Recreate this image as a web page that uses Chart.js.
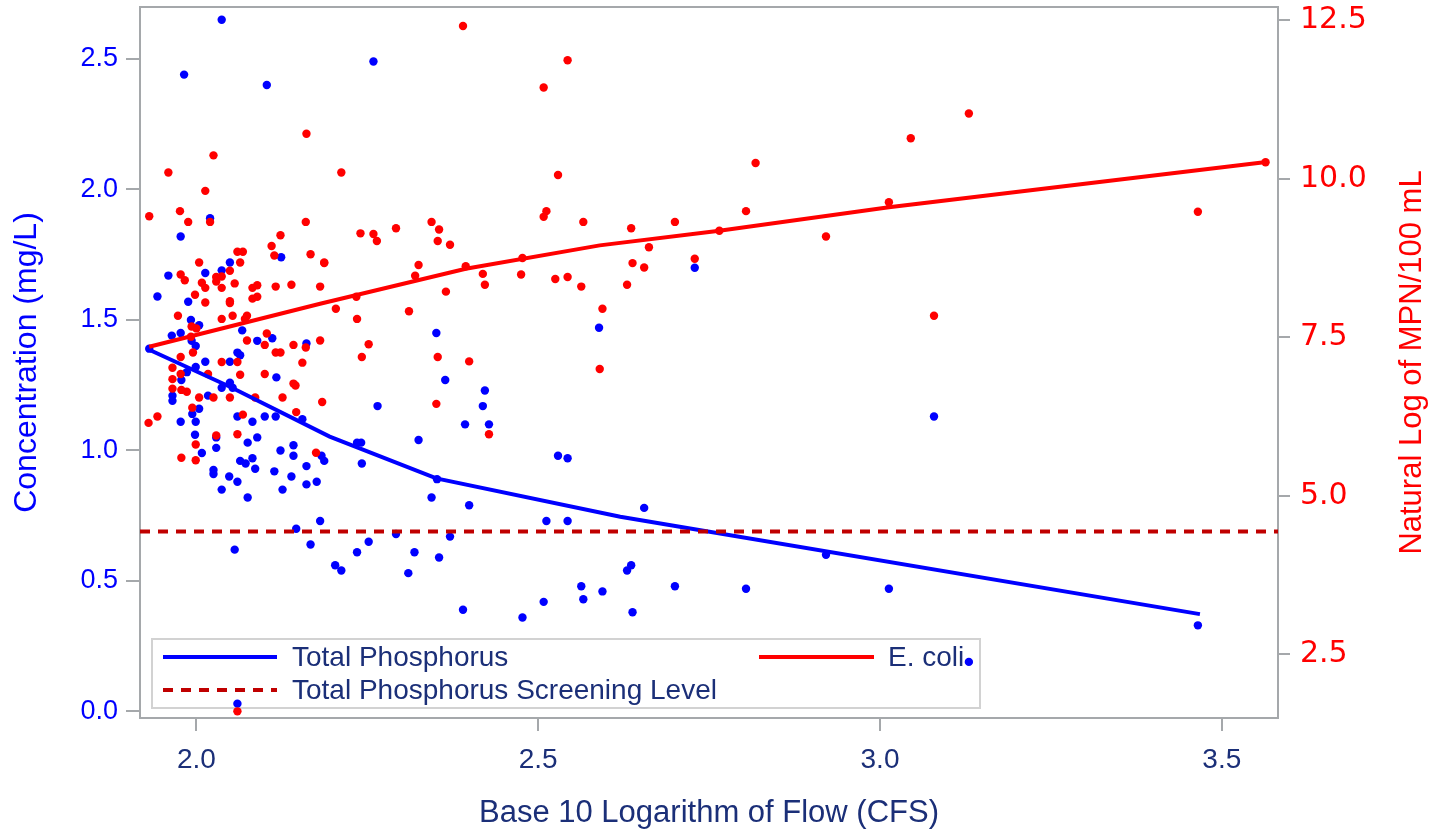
<!DOCTYPE html>
<html>
<head>
<meta charset="utf-8">
<script src="https://cdn.jsdelivr.net/npm/chart.js@4.4.1/dist/chart.umd.min.js"></script>
<style>
  html, body { margin: 0; padding: 0; background: #fff; }
</style>
</head>
<body>
<canvas id="chart" width="1445" height="835"></canvas>
<script>
// Total phosphorus samples: log10 flow / concentration (mg/L)
const tpFlow = [
  2.037, 1.982, 2.103, 2.020, 1.977, 2.124, 2.049, 2.013, 2.037, 1.959,
  1.943, 1.988, 1.992, 2.004, 2.067, 1.964, 1.977, 2.111, 2.089, 1.993,
  1.999, 2.161, 1.931, 2.060, 2.064, 2.013, 2.049, 1.986, 1.999, 2.117,
  1.978, 1.965, 1.965, 2.017, 2.037, 2.049, 2.053, 2.004, 1.994, 2.060,
  2.100, 2.116, 2.155, 2.082, 1.977, 1.999, 1.998, 2.029, 2.089, 2.075,
  2.029, 2.142, 2.142, 2.123, 2.183, 2.187, 2.008, 2.064, 2.072, 2.082,
  2.086, 2.025, 2.025, 2.114, 2.161, 2.139, 2.048, 2.060, 2.176, 2.161,
  2.126, 2.037, 2.075, 2.181, 2.146, 2.167, 2.056, 2.060,
  2.259, 2.589, 2.351, 2.364, 2.265, 2.422, 2.419, 2.393, 2.428, 2.325,
  2.235, 2.241, 2.242, 2.529, 2.543, 2.352, 2.344, 2.399, 2.512, 2.543,
  2.292, 2.371, 2.252, 2.235, 2.319, 2.355, 2.203, 2.212, 2.310, 2.563,
  2.566, 2.594, 2.508, 2.390, 2.477,
  2.729, 3.079, 2.655, 2.921, 2.630, 2.636, 2.700, 2.804, 3.013, 2.638,
  3.465, 3.130
];
const tpConc = [
  2.65, 2.44, 2.40, 1.89, 1.82, 1.74, 1.72, 1.68, 1.69, 1.67,
  1.59, 1.57, 1.50, 1.48, 1.46, 1.44, 1.45, 1.43, 1.42, 1.42,
  1.40, 1.41, 1.39, 1.375, 1.365, 1.34, 1.34, 1.30, 1.32, 1.28,
  1.27, 1.21, 1.19, 1.21, 1.24, 1.26, 1.24, 1.16, 1.14, 1.13,
  1.13, 1.13, 1.12, 1.11, 1.11, 1.11, 1.06, 1.05, 1.05, 1.03,
  1.01, 1.02, 0.98, 1.00, 0.98, 0.96, 0.99, 0.96, 0.95, 0.97,
  0.93, 0.925, 0.91, 0.92, 0.94, 0.90, 0.90, 0.88, 0.88, 0.87,
  0.85, 0.85, 0.82, 0.73, 0.70, 0.64, 0.62, 0.03,
  2.49, 1.47, 1.45, 1.27, 1.17, 1.23, 1.17, 1.10, 1.10, 1.04,
  1.03, 1.03, 0.95, 0.98, 0.97, 0.89, 0.82, 0.79, 0.73, 0.73,
  0.68, 0.67, 0.65, 0.61, 0.61, 0.59, 0.56, 0.54, 0.53, 0.48,
  0.43, 0.46, 0.42, 0.39, 0.36,
  1.70, 1.13, 0.78, 0.60, 0.54, 0.56, 0.48, 0.47, 0.47, 0.38,
  0.33, 0.19
];

// E. coli samples: log10 flow / natural log of MPN per 100 mL
const ecFlow = [
  2.161, 2.025, 1.959, 2.013, 1.931, 1.976, 1.988, 2.020, 2.160, 2.123,
  2.110, 2.114, 2.060, 2.068, 2.064, 2.167, 2.187, 2.004, 2.049, 1.977,
  1.983, 2.029, 2.037, 2.029, 2.008, 2.056, 2.013, 2.037, 2.082, 2.089,
  2.116, 2.139, 2.181, 1.998, 2.013, 2.049, 2.049, 2.082, 2.089, 1.973,
  2.037, 2.053, 2.074, 2.071, 1.993, 2.000, 1.992, 2.103, 2.074, 2.100,
  2.142, 2.181, 2.160, 1.995, 2.116, 2.123, 1.977, 2.037, 2.060, 2.155,
  1.965, 1.977, 2.017, 2.064, 2.100, 1.965, 2.142,
  1.965, 1.978, 1.986, 2.004, 2.025, 2.049, 2.086, 2.126, 2.145, 2.184,
  1.994, 2.068, 2.146, 1.930, 1.943, 2.029, 2.060, 1.999, 2.175, 1.978,
  1.999, 2.060,
  2.390, 2.543, 2.508, 2.212, 2.529, 2.512, 2.508, 2.566, 2.344, 2.355,
  2.353, 2.371, 2.240, 2.259, 2.264, 2.292, 2.187, 2.325, 2.320, 2.394,
  2.419, 2.422, 2.475, 2.477, 2.525, 2.543, 2.563, 2.365, 2.234, 2.204,
  2.235, 2.311, 2.594, 2.252, 2.242, 2.353, 2.399, 2.351, 2.428,
  3.130, 3.045, 2.818, 3.564, 3.013, 2.804, 3.465, 2.636, 2.700, 2.765,
  2.662, 2.921, 2.638, 2.655, 2.729, 2.630, 3.079, 2.590
];
const ecLog = [
  10.71, 10.37, 10.10, 9.81, 9.41, 9.49, 9.32, 9.32, 9.32, 9.11,
  8.94, 8.79, 8.85, 8.85, 8.68, 8.81, 8.68, 8.68, 8.55, 8.49,
  8.40, 8.45, 8.46, 8.38, 8.36, 8.35, 8.28, 8.28, 8.28, 8.32,
  8.30, 8.33, 8.30, 8.17, 8.05, 8.07, 8.04, 8.11, 8.14, 7.84,
  7.79, 7.84, 7.84, 7.79, 7.67, 7.64, 7.51, 7.56, 7.45, 7.38,
  7.38, 7.45, 7.34, 7.26, 7.26, 7.26, 7.19, 7.11, 7.11, 7.10,
  7.02, 6.92, 6.92, 6.91, 6.92, 6.84, 6.77,
  6.69, 6.67, 6.64, 6.55, 6.55, 6.55, 6.55, 6.55, 6.74, 6.48,
  6.39, 6.28, 6.32, 6.15, 6.25, 5.95, 5.97, 5.81, 5.68, 5.60,
  5.56, 1.60,
  12.41, 11.87, 11.44, 10.10, 10.06, 9.49, 9.40, 9.32, 9.32, 9.20,
  9.02, 8.96, 9.14, 9.13, 9.02, 9.22, 8.67, 8.64, 8.47, 8.62,
  8.50, 8.33, 8.49, 8.75, 8.42, 8.45, 8.30, 8.22, 8.14, 7.95,
  7.79, 7.91, 7.95, 7.39, 7.19, 7.19, 7.12, 6.45, 5.97,
  11.03, 10.64, 10.25, 10.26, 9.63, 9.49, 9.48, 9.22, 9.32, 9.18,
  8.92, 9.09, 8.67, 8.60, 8.74, 8.33, 7.84, 7.00
];

// smoothed fits
const tpFitFlow = [1.931, 2.049, 2.195, 2.351, 2.620, 3.468];
const tpFit = [1.386, 1.244, 1.053, 0.893, 0.746, 0.373];
const ecFitFlow = [1.931, 2.181, 2.394, 2.590, 2.765, 3.013, 3.562];
const ecFit = [7.35, 8.03, 8.58, 8.95, 9.18, 9.55, 10.26];

const screeningLevel = 0.69;

// axes
const flowTicks = [2.0, 2.5, 3.0, 3.5];
const concTicks = [0.0, 0.5, 1.0, 1.5, 2.0, 2.5];
const ecTicks = [2.5, 5.0, 7.5, 10.0, 12.5];
const X_MIN = 1.9175, X_MAX = 3.5822;
const C_MIN = -0.025, C_MAX = 2.699;
const E_MIN = 1.495, E_MAX = 12.71;

const FONT = "'Liberation Sans', Arial, sans-serif";
const NAVY = '#1b2f78';
const BLUE = '#0000ff';
const RED = '#ff0000';
const DARKRED = '#c00000';
const GRAY = '#a5a8ab';

const pts = (xs, ys) => xs.map((x, i) => ({ x: x, y: ys[i] }));

const framePlugin = {
  id: 'frame',
  beforeDatasetsDraw(chart) {
    const { ctx, chartArea: a } = chart;
    ctx.save();
    ctx.strokeStyle = GRAY;
    ctx.lineWidth = 2;
    ctx.strokeRect(a.left, a.top, a.right - a.left, a.bottom - a.top);

    // legend box inside the plot
    const x0 = a.left + 12, y0 = a.bottom - 79;
    ctx.strokeStyle = '#d2d2d2';
    ctx.strokeRect(x0, y0, 828, 69);
    const r1 = y0 + 18, r2 = y0 + 51;
    ctx.lineWidth = 4;
    ctx.strokeStyle = BLUE;
    ctx.beginPath(); ctx.moveTo(x0 + 11, r1); ctx.lineTo(x0 + 125, r1); ctx.stroke();
    ctx.strokeStyle = RED;
    ctx.beginPath(); ctx.moveTo(x0 + 607, r1); ctx.lineTo(x0 + 722, r1); ctx.stroke();
    ctx.strokeStyle = DARKRED;
    ctx.setLineDash([10, 8]);
    ctx.beginPath(); ctx.moveTo(x0 + 11, r2); ctx.lineTo(x0 + 125, r2); ctx.stroke();
    ctx.setLineDash([]);
    ctx.fillStyle = NAVY;
    ctx.font = '28px ' + FONT;
    ctx.textBaseline = 'middle';
    ctx.textAlign = 'left';
    ctx.fillText('Total Phosphorus', x0 + 140, r1 + 1);
    ctx.fillText('E. coli', x0 + 736, r1 + 1);
    ctx.fillText('Total Phosphorus Screening Level', x0 + 140, r2 + 1);
    ctx.restore();
  },
  afterDraw(chart) {
    // right axis title reads bottom to top
    const { ctx, chartArea: a } = chart;
    ctx.save();
    ctx.translate(chart.width - 33, (a.top + a.bottom) / 2);
    ctx.rotate(-Math.PI / 2);
    ctx.fillStyle = RED;
    ctx.font = '31px ' + FONT;
    ctx.textAlign = 'center';
    ctx.textBaseline = 'middle';
    ctx.fillText('Natural Log of MPN/100 mL', 0, 0);
    ctx.restore();
  }
};

new Chart(document.getElementById('chart').getContext('2d'), {
  type: 'scatter',
  data: {
    datasets: [
      {
        label: 'Total Phosphorus Screening Level',
        data: [{ x: X_MIN, y: screeningLevel }, { x: X_MAX, y: screeningLevel }],
        showLine: true, borderColor: DARKRED, borderWidth: 4, borderDash: [10, 8],
        pointRadius: 0, yAxisID: 'y', order: 0
      },
      {
        label: 'E. coli',
        data: pts(ecFitFlow, ecFit),
        showLine: true, borderColor: RED, borderWidth: 4,
        pointRadius: 0, yAxisID: 'y2', order: 1
      },
      {
        label: 'Total Phosphorus',
        data: pts(tpFitFlow, tpFit),
        showLine: true, borderColor: BLUE, borderWidth: 4,
        pointRadius: 0, yAxisID: 'y', order: 2
      },
      {
        label: 'E. coli samples',
        data: pts(ecFlow, ecLog),
        backgroundColor: RED, borderWidth: 0, pointRadius: 4.2,
        yAxisID: 'y2', order: 3
      },
      {
        label: 'Total Phosphorus samples',
        data: pts(tpFlow, tpConc),
        backgroundColor: BLUE, borderWidth: 0, pointRadius: 4.2,
        yAxisID: 'y', order: 4
      }
    ]
  },
  options: {
    responsive: false,
    animation: false,
    layout: { padding: { top: 7, left: 0, right: 0, bottom: 0 } },
    plugins: {
      legend: { display: false },
      tooltip: { enabled: false }
    },
    scales: {
      x: {
        type: 'linear',
        position: 'bottom',
        min: X_MIN,
        max: X_MAX,
        afterBuildTicks: s => { s.ticks = flowTicks.map(v => ({ value: v })); },
        afterFit: s => { s.height = 117; s.paddingLeft = 0; s.paddingRight = 0; },
        ticks: {
          color: NAVY, font: { family: FONT, size: 28 }, padding: 12,
          maxRotation: 0, autoSkip: false,
          callback: v => v.toFixed(1)
        },
        grid: { drawOnChartArea: false, tickLength: 13, color: GRAY, tickColor: GRAY, lineWidth: 2 },
        border: { display: false },
        title: {
          display: true, text: 'Base 10 Logarithm of Flow (CFS)', color: NAVY,
          font: { family: FONT, size: 31 }, padding: { top: 0, bottom: 3 }
        }
      },
      y: {
        type: 'linear',
        position: 'left',
        min: C_MIN,
        max: C_MAX,
        afterBuildTicks: s => { s.ticks = concTicks.map(v => ({ value: v })); },
        afterFit: s => { s.width = 140; s.paddingTop = 0; s.paddingBottom = 0; },
        ticks: {
          color: BLUE, font: { family: FONT, size: 27 }, padding: 8,
          callback: v => v.toFixed(1)
        },
        grid: { drawOnChartArea: false, tickLength: 14, color: GRAY, tickColor: GRAY, lineWidth: 2 },
        border: { display: false },
        title: {
          display: true, text: 'Concentration (mg/L)', color: BLUE,
          font: { family: FONT, size: 32 }, padding: { top: 8, bottom: 0 }
        }
      },
      y2: {
        type: 'linear',
        position: 'right',
        min: E_MIN,
        max: E_MAX,
        afterBuildTicks: s => { s.ticks = ecTicks.map(v => ({ value: v })); },
        afterFit: s => { s.width = 167; s.paddingTop = 0; s.paddingBottom = 0; },
        ticks: {
          color: RED, font: { family: "'DejaVu Sans', sans-serif", size: 30 }, padding: 10,
          callback: v => v.toFixed(1)
        },
        grid: { drawOnChartArea: false, tickLength: 12, color: GRAY, tickColor: GRAY, lineWidth: 2 },
        border: { display: false }
      }
    }
  },
  plugins: [framePlugin]
});
</script>
</body>
</html>
